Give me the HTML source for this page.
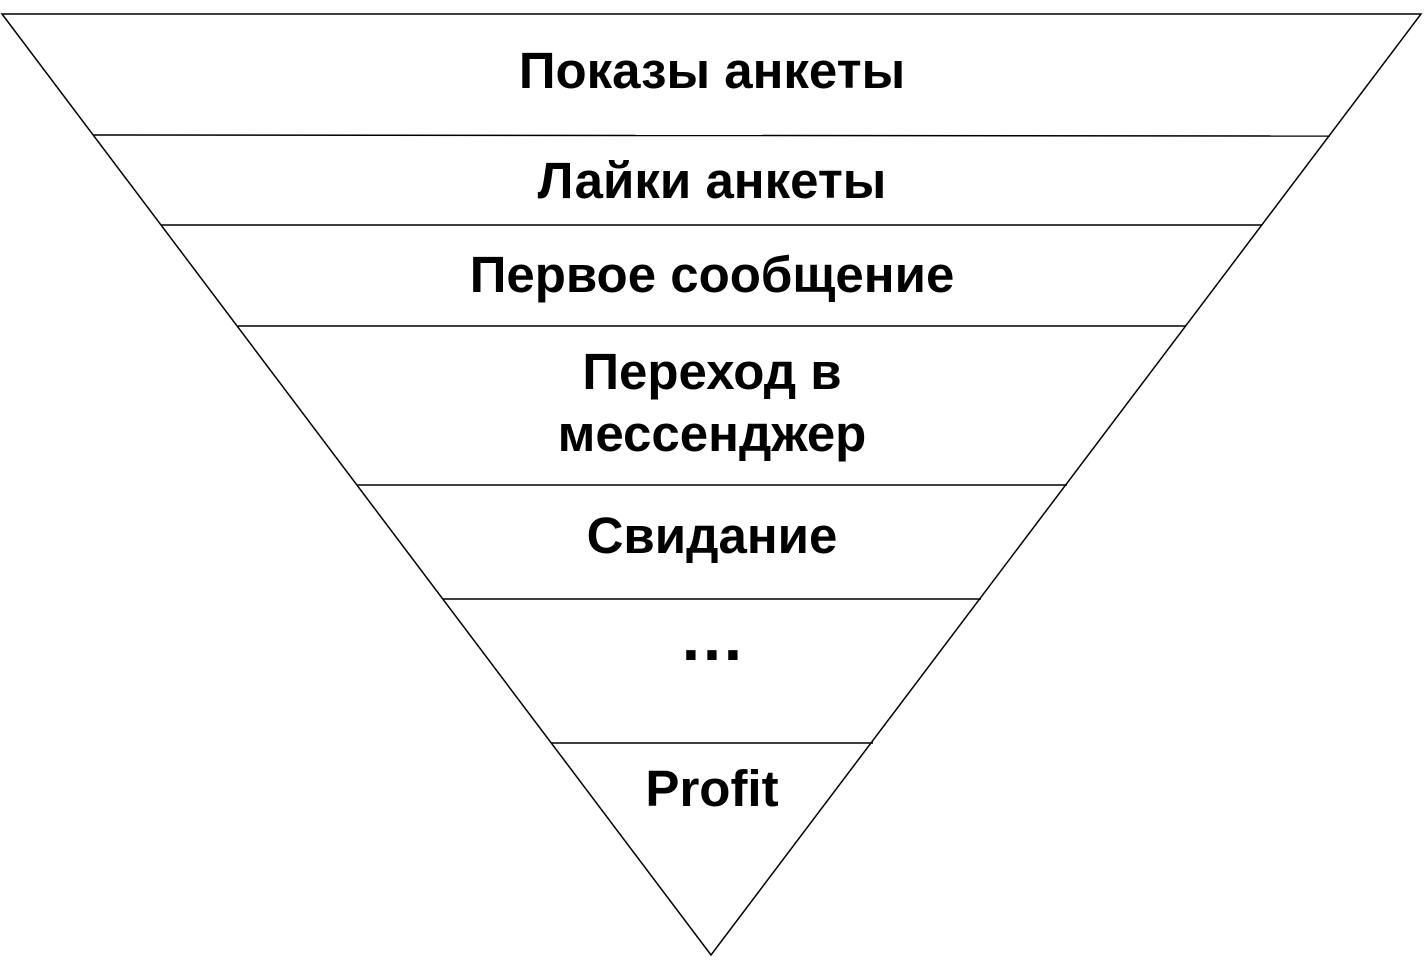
<!DOCTYPE html>
<html><head><meta charset="utf-8"><style>
html,body{margin:0;padding:0;background:#fff;}
svg{display:block;}
text{font-family:"Liberation Sans","DejaVu Sans",sans-serif;font-weight:bold;font-size:51px;fill:#000;text-anchor:middle;}
</style></head><body>
<svg width="1425" height="963" viewBox="0 0 1425 963" xmlns="http://www.w3.org/2000/svg">
<polygon points="2,14 1421,14 711,955" fill="#fff" stroke="#000" stroke-width="1.5"/>
<g stroke="#000" stroke-width="1.5">
<line x1="93" y1="135" x2="1330" y2="136"/>
<line x1="161" y1="225" x2="1262" y2="225"/>
<line x1="238" y1="326" x2="1186" y2="326"/>
<line x1="357" y1="485" x2="1067" y2="485"/>
<line x1="443" y1="599" x2="981" y2="599"/>
<line x1="551" y1="743" x2="873" y2="743"/>
</g>
<text x="712" y="88">Показы анкеты</text>
<text x="712" y="198">Лайки анкеты</text>
<text x="712" y="292">Первое сообщение</text>
<text x="712" y="389">Переход в</text>
<text x="712" y="451">мессенджер</text>
<text x="712" y="553">Свидание</text>
<text x="712" y="660" style="font-size:66px">…</text>
<text x="712" y="806">Profit</text>
</svg>
</body></html>
